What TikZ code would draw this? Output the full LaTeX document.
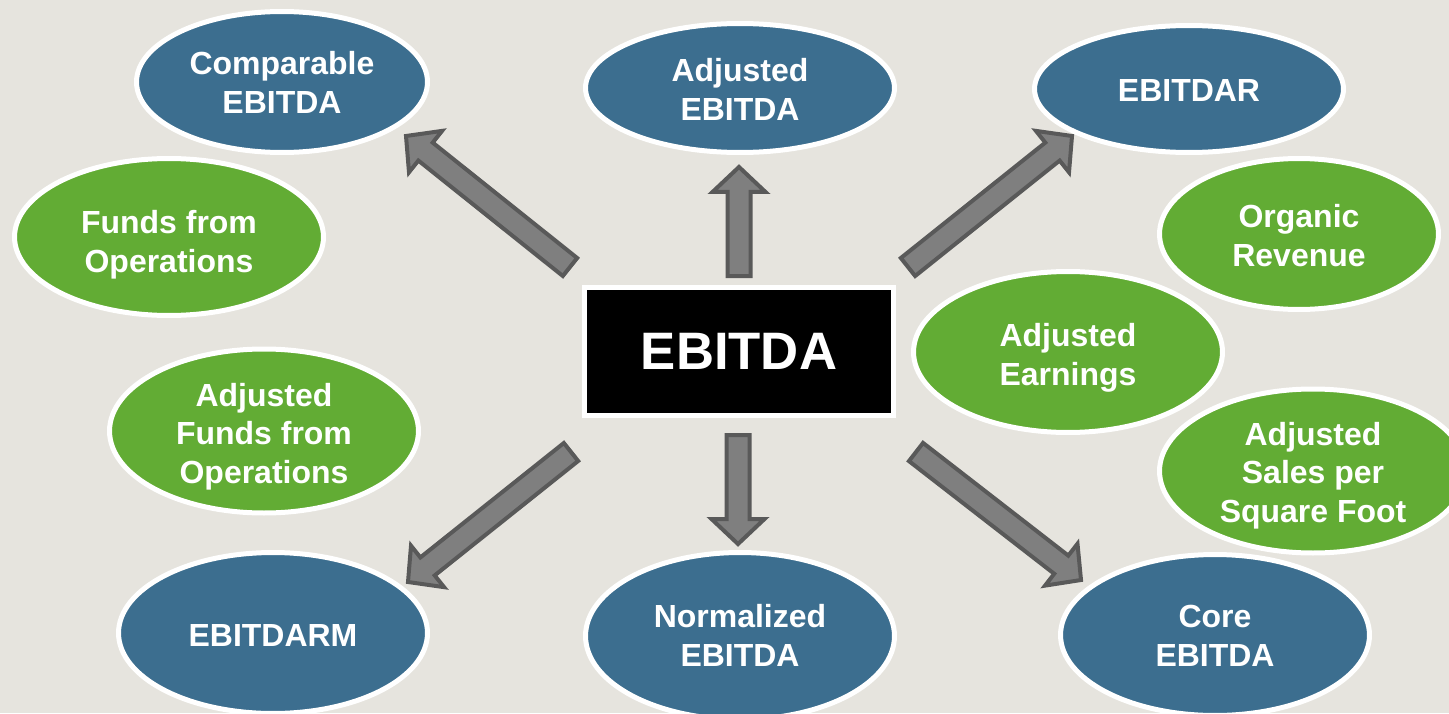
\documentclass[tikz,border=0pt]{standalone}
\usepackage{fontspec}
\setmainfont{Liberation Sans}
\usetikzlibrary{shapes.geometric,calc}
\definecolor{bg}{HTML}{E6E4DE}
\definecolor{nblue}{HTML}{3C6E8F}
\definecolor{ngreen}{HTML}{62AC34}
\definecolor{afill}{HTML}{7F7F7F}
\definecolor{aline}{HTML}{595959}
\newcommand{\arsw}{0.23cm}
\newcommand{\arhw}{0.53cm}
\newcommand{\arhl}{0.5cm}
% text block lowered by #1 without changing its box
\newcommand{\txtdn}[2]{\raisebox{-#1}[\height][\depth]{\begin{tabular}{@{}c@{}}#2\end{tabular}}}
% block arrow from coordinate #1 (tail) to coordinate #2 (tip); #3 prefix
\newcommand{\blockarr}[3]{%
  \coordinate (#3hb) at ($(#2)!\arhl!(#1)$);
  \draw[blockarrow] ($(#1)!\arsw!90:(#2)$) -- ($(#3hb)!\arsw!90:(#2)$)
    -- ($(#3hb)!\arhw!90:(#2)$) -- (#2) -- ($(#3hb)!\arhw!-90:(#2)$)
    -- ($(#3hb)!\arsw!-90:(#2)$) -- ($(#1)!\arsw!-90:(#2)$) -- cycle;
}
\begin{document}
\begin{tikzpicture}[x=0.02cm,y=-0.02cm,
  bub/.style={ellipse, draw=white, line width=0.1cm, text=white,
    font=\fontsize{18.2}{22}\selectfont\bfseries, align=center, inner sep=0pt},
  bluebub/.style={bub, fill=nblue},
  greenbub/.style={bub, fill=ngreen},
  sz/.style 2 args={minimum width=#1, minimum height=#2},
  centerbox/.style={rectangle, fill=black, draw=white, line width=0.1cm,
    text=white, font=\fontsize{30}{36}\selectfont\bfseries, inner sep=0pt,
    minimum width=6.18cm, minimum height=2.56cm},
  blockarrow/.style={fill=afill, draw=aline, line width=0.08cm, line join=miter},
]
\useasboundingbox (0,0) rectangle (1449,713);
\fill[bg] (0,0) rectangle (1449,713);
\clip (0,0) rectangle (1449,713);

% ellipses
\node[bluebub, sz={5.82cm}{2.82cm}] (comp) at (282,82) {\txtdn{0.09cm}{Comparable\\EBITDA}};
\node[bluebub, sz={6.18cm}{2.58cm}] (adje) at (740,88) {\txtdn{0.1cm}{Adjusted\\EBITDA}};
\node[bluebub, sz={6.18cm}{2.54cm}] (ebitdar) at (1189,89) {\txtdn{0.1cm}{EBITDAR}};
\node[greenbub, sz={6.18cm}{3.14cm}] (ffo) at (169,237) {\txtdn{0.16cm}{Funds from\\Operations}};
\node[greenbub, sz={5.58cm}{3.02cm}] (organic) at (1299,234) {\txtdn{0.11cm}{Organic\\Revenue}};
\node[greenbub, sz={6.18cm}{3.22cm}] (adjearn) at (1068,352) {\txtdn{0.12cm}{Adjusted\\Earnings}};
\node[greenbub, sz={6.18cm}{3.22cm}] (affo) at (264,431) {\txtdn{0.12cm}{Adjusted\\Funds from\\Operations}};
\node[greenbub, sz={6.14cm}{3.26cm}] (adjsales) at (1313,471) {\txtdn{0.1cm}{Adjusted\\Sales per\\Square Foot}};
\node[bluebub, sz={6.18cm}{3.22cm}] (ebitdarm) at (273,633) {\txtdn{0.12cm}{EBITDARM}};
\node[bluebub, sz={6.18cm}{3.34cm}] (norm) at (740,636) {\txtdn{0.06cm}{Normalized\\EBITDA}};
\node[bluebub, sz={6.18cm}{3.22cm}] (core) at (1215,635) {\txtdn{0.08cm}{Core\\EBITDA}};

% center box
\node[centerbox] (ebitda) at (739,351.5) {EBITDA};

% arrow end points
\coordinate (ulT) at (570,267);  \coordinate (ulH) at (406,136);
\coordinate (urT) at (908,267);  \coordinate (urH) at (1072,136);
\coordinate (llT) at (571,452);  \coordinate (llH) at (408,582);
\coordinate (lrT) at (916,452);  \coordinate (lrH) at (1081,580);
\coordinate (upT) at (739,276);  \coordinate (upH) at (739,167);
\coordinate (dnT) at (738,435);  \coordinate (dnH) at (738,544);

\blockarr{ulT}{ulH}{ul}
\blockarr{urT}{urH}{ur}
\blockarr{llT}{llH}{ll}
\blockarr{lrT}{lrH}{lr}
\blockarr{upT}{upH}{up}
\blockarr{dnT}{dnH}{dn}
\end{tikzpicture}
\end{document}
